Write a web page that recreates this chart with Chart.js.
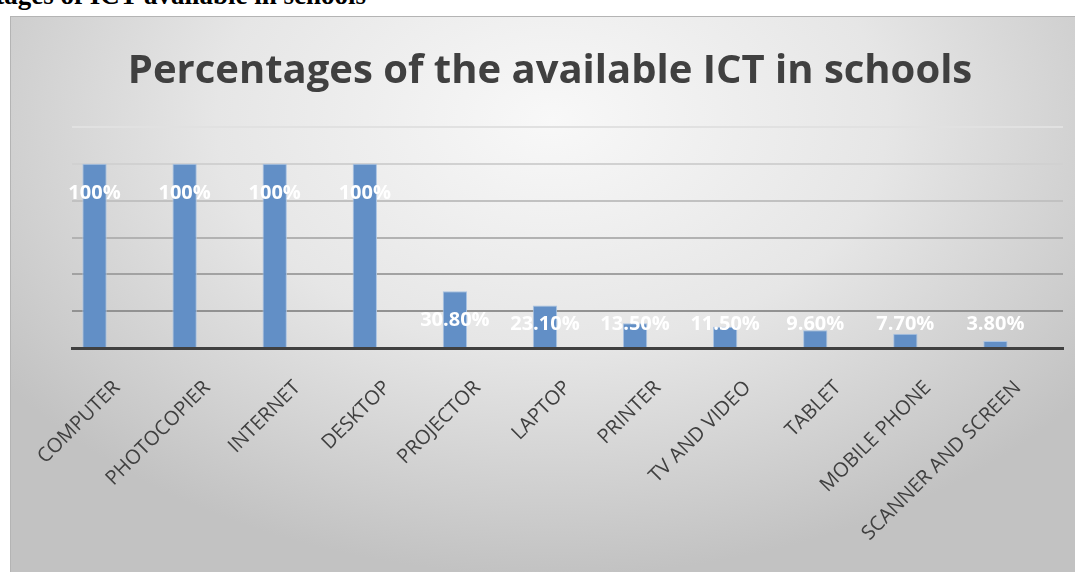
<!DOCTYPE html>
<html>
<head>
<meta charset="utf-8">
<script src="https://cdn.jsdelivr.net/npm/chart.js@4.4.1/dist/chart.umd.min.js"></script>
<style>
  html, body { margin: 0; padding: 0; background: #fff; overflow: hidden; }
  body { width: 1075px; height: 572px; position: relative; }
  .caption {
    position: absolute; right: calc(100% - 366px); top: -20px; text-align: right;
    font: bold 27px "Liberation Serif", serif; color: #000; white-space: nowrap;
  }
  .frame {
    position: absolute; left: 10px; top: 16px; width: 1081px; height: 570px;
    border-top: 1px solid #b4b4b4; border-left: 1px solid #b4b4b4;
    background: radial-gradient(ellipse 62% 80% at 50% 18%, #f8f8f8 0%, #e6e6e6 50%, #cdcdcd 85%, #c2c2c2 100%);
  }
  .frame canvas { display: block; }
</style>
</head>
<body>
<div class="caption">Percentages of ICT available in schools</div>
<div class="frame"><canvas id="ictChart" width="1081" height="570"></canvas></div>
<script>
  // Chart data
  const categories = ['COMPUTER', 'PHOTOCOPIER', 'INTERNET', 'DESKTOP', 'PROJECTOR', 'LAPTOP',
    'PRINTER', 'TV AND VIDEO', 'TABLET', 'MOBILE PHONE', 'SCANNER AND SCREEN'];
  const percentValues = [100, 100, 100, 100, 30.8, 23.1, 13.5, 11.5, 9.6, 7.7, 3.8];
  const valueLabels = ['100%', '100%', '100%', '100%', '30.80%', '23.10%', '13.50%', '11.50%', '9.60%', '7.70%', '3.80%'];
  // the original sheet has a second, empty series next to the first one
  const emptySeries = [];

  const chartTitle = 'Percentages of the available ICT in schools';

  // gridlines get darker toward the bottom
  function gridShade(v) {
    if (v === 0) return 'rgba(0,0,0,0)';
    const g = Math.round(130 + (v / 120) * 95);
    return `rgb(${g},${g},${g})`;
  }

  // title drawn by hand so it can sit a bit left of the plot centre
  const titlePlugin = {
    id: 'sheetTitle',
    beforeDraw(chart) {
      const ctx = chart.ctx;
      ctx.save();
      ctx.font = 'bold 40px "Open Sans"';
      ctx.fillStyle = '#404040';
      ctx.textAlign = 'center';
      ctx.textBaseline = 'alphabetic';
      ctx.fillText(chartTitle, 539, 66);
      ctx.restore();
    }
  };

  // white value labels on/near the bars
  const valueLabelPlugin = {
    id: 'valueLabels',
    afterDatasetsDraw(chart) {
      const ctx = chart.ctx;
      const meta = chart.getDatasetMeta(0);
      const base = chart.scales.y.getPixelForValue(0);
      ctx.save();
      ctx.font = 'bold 20px "Open Sans"';
      ctx.fillStyle = '#ffffff';
      ctx.textAlign = 'center';
      ctx.textBaseline = 'middle';
      meta.data.forEach((bar, i) => {
        const y = Math.min(bar.y + 29, base - 24);
        ctx.fillText(valueLabels[i], bar.x, y);
      });
      ctx.restore();
    }
  };

  const ctx = document.getElementById('ictChart').getContext('2d');
  new Chart(ctx, {
    type: 'bar',
    data: {
      labels: categories,
      datasets: [{
        data: percentValues,
        backgroundColor: '#628fc6',
        borderColor: '#a9c3e3',
        borderWidth: 1,
        barPercentage: 0.54,
        categoryPercentage: 1
      }, {
        data: emptySeries,
        backgroundColor: '#ed7d31',
        barPercentage: 0.54,
        categoryPercentage: 1
      }]
    },
    options: {
      responsive: false,
      animation: false,
      layout: {
        padding: { left: 61, right: 29, top: 110, bottom: 0 }
      },
      scales: {
        x: {
          grid: { display: false },
          border: { color: '#404040', width: 3 },
          afterFit(scale) { scale.height = 239; },
          ticks: {
            color: '#404040',
            font: { family: 'Open Sans', size: 20 },
            minRotation: 45,
            maxRotation: 45,
            padding: 20,
            autoSkip: false
          }
        },
        y: {
          min: 0,
          max: 120,
          ticks: { display: false, stepSize: 20 },
          border: { display: false },
          grid: {
            lineWidth: 2,
            drawTicks: false,
            color: (c) => gridShade(c.tick.value)
          }
        }
      },
      plugins: {
        legend: { display: false },
        tooltip: { enabled: false },
        title: { display: false }
      }
    },
    plugins: [titlePlugin, valueLabelPlugin]
  });
</script>
</body>
</html>
